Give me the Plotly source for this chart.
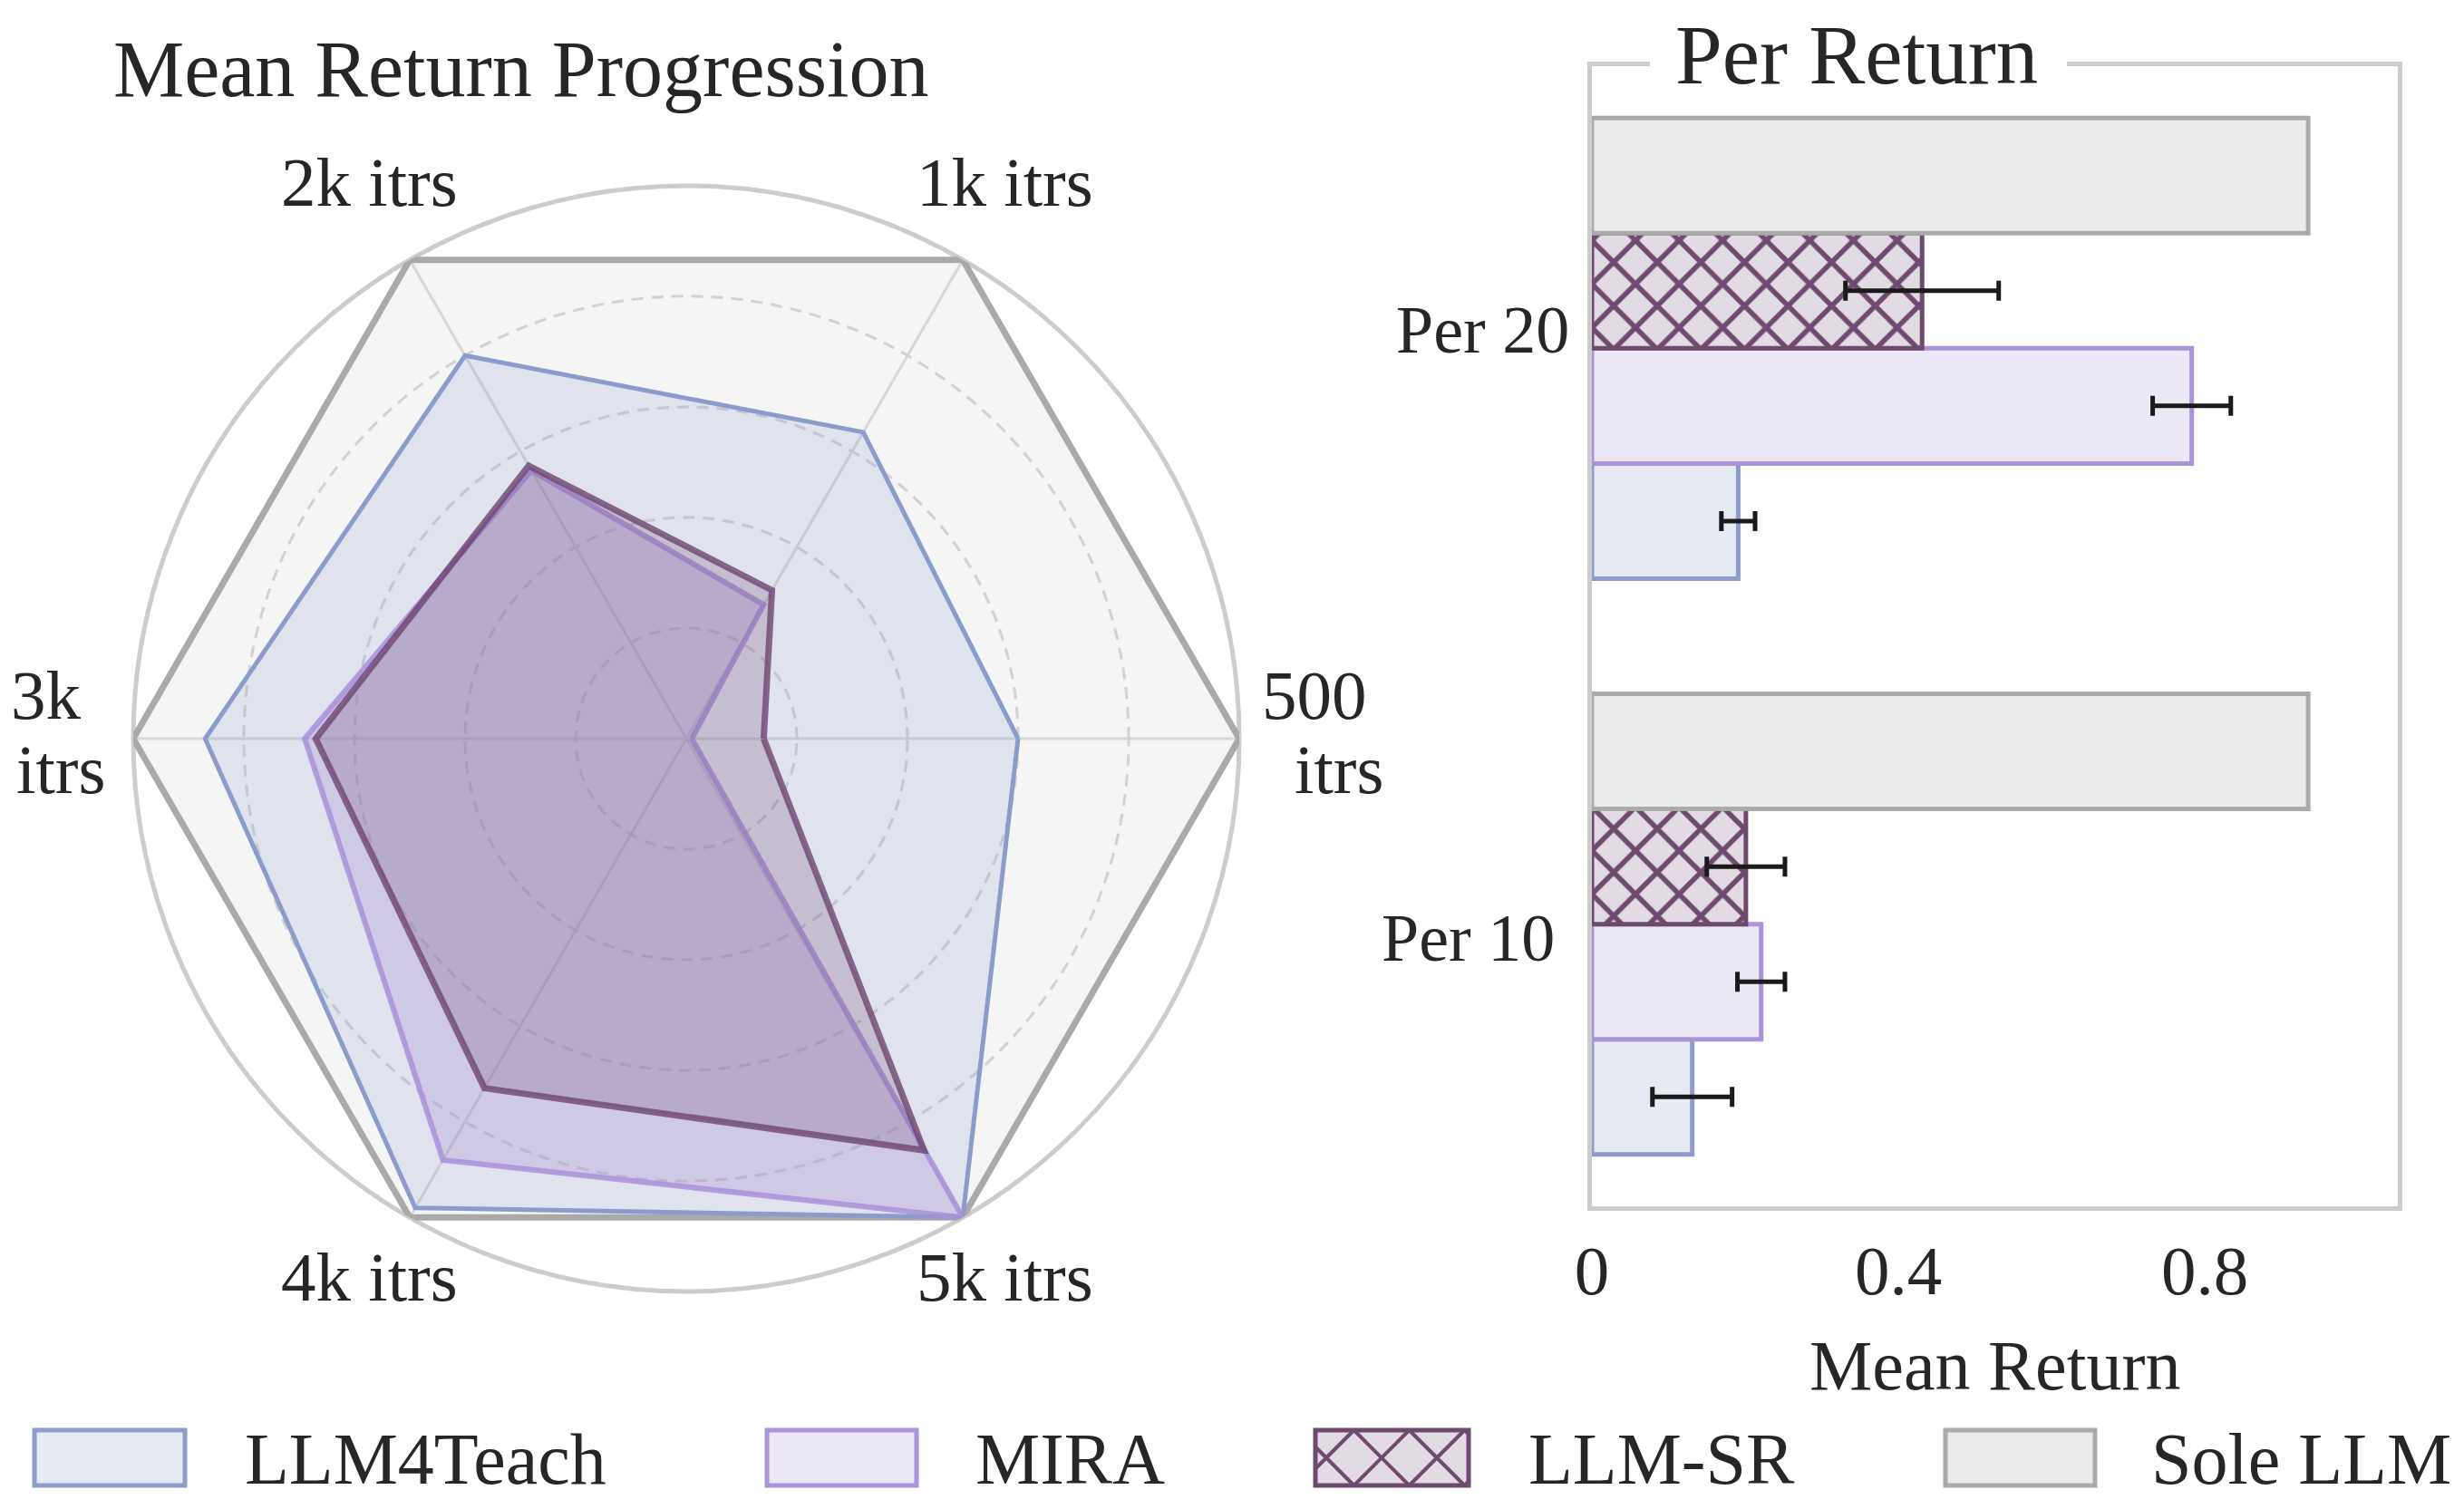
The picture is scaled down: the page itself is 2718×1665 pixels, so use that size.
import plotly.graph_objects as go

W, H = 2718, 1665
PAGE_MARGIN = 8
FW, FH = W - 2 * PAGE_MARGIN, H - 2 * PAGE_MARGIN
FONT = "Liberation Serif"
TXT = "#262626"

# ---------------- data ----------------
stages = ['500 itrs', '1k itrs', '2k itrs', '3k itrs', '4k itrs', '5k itrs']
llm4teach_r = [0.60, 0.64, 0.80, 0.87, 0.98, 1.00]
mira_r = [0.01, 0.28, 0.56, 0.69, 0.88, 1.00]
llmsr_r = [0.14, 0.31, 0.57, 0.67, 0.73, 0.86]
sole_r = [1.00, 1.00, 1.00, 1.00, 1.00, 1.00]
radial_grid = [0.2, 0.4, 0.6, 0.8]

groups = ['Per 10', 'Per 20']
llm4teach_bar = [0.131, 0.191]
llm4teach_err = [0.052, 0.022]
mira_bar = [0.221, 0.783]
mira_err = [0.031, 0.051]
llmsr_bar = [0.201, 0.431]
llmsr_err = [0.051, 0.100]
sole_bar = [0.935, 0.935]
x_ticks = [0, 0.4, 0.8]
x_ticklabels = ['0', '0.4', '0.8']

methods = ['LLM4Teach', 'MIRA', 'LLM-SR', 'Sole LLM']

# ---------------- styles ----------------
edge = {'LLM4Teach': '#8e9ccb', 'MIRA': '#ab93d8', 'LLM-SR': '#6e4a6f', 'Sole LLM': '#aba9a9'}
barfill = {'LLM4Teach': '#e7eaf3', 'MIRA': '#ece8f5', 'LLM-SR': '#e3dbe3', 'Sole LLM': '#ececec'}


def px_x(v):
    return (v - PAGE_MARGIN) / FW


def px_y(v):
    return 1 - (v - PAGE_MARGIN) / FH


fig = go.Figure()


def closed(vals):
    return list(vals) + [vals[0]]


theta_c = closed(stages)

fig.add_trace(go.Scatterpolar(r=closed(sole_r), theta=theta_c, mode='lines', fill='toself',
                              fillcolor='rgba(169,169,169,0.12)',
                              line=dict(color='#aba8a8', width=7), showlegend=False, hoverinfo='skip'))
fig.add_trace(go.Scatterpolar(r=closed(llm4teach_r), theta=theta_c, mode='lines', fill='toself',
                              fillcolor='rgba(140,155,204,0.20)',
                              line=dict(color='#8c9bcc', width=5), showlegend=False, hoverinfo='skip'))
fig.add_trace(go.Scatterpolar(r=closed(mira_r), theta=theta_c, mode='lines', fill='toself',
                              fillcolor='rgba(169,143,216,0.30)',
                              line=dict(color='rgba(169,143,216,0.85)', width=6), showlegend=False,
                              hoverinfo='skip'))
fig.add_trace(go.Scatterpolar(r=closed(llmsr_r), theta=theta_c, mode='lines', fill='toself',
                              fillcolor='rgba(107,69,112,0.23)',
                              line=dict(color='rgba(107,69,112,0.80)', width=7), showlegend=False,
                              hoverinfo='skip'))

# ---------------- bars ----------------
bar_vals = {'LLM4Teach': (llm4teach_bar, llm4teach_err), 'MIRA': (mira_bar, mira_err),
            'LLM-SR': (llmsr_bar, llmsr_err), 'Sole LLM': (sole_bar, None)}
for m in methods:
    vals, err = bar_vals[m]
    marker = dict(color=barfill[m], line=dict(color=edge[m], width=5))
    if m == 'LLM-SR':
        marker['pattern'] = dict(shape='x', size=34, solidity=0.3, fgcolor=edge[m], fgopacity=1)
    kw = {}
    if err is not None:
        kw['error_x'] = dict(type='data', array=err, color='#1a1a1a', thickness=5, width=11)
    fig.add_trace(go.Bar(y=groups, x=vals, orientation='h', marker=marker, name=m,
                         xaxis='x', yaxis='y', showlegend=False, hoverinfo='skip', **kw))

# ---------------- annotations ----------------
shapes = []
ann = []
ann.append(dict(text='Mean Return Progression', x=px_x(574), y=px_y(77), xref='paper', yref='paper',
                xanchor='center', yanchor='middle', showarrow=False, font=dict(size=88, family=FONT, color=TXT)))
# white gap in the frame's top line behind the panel title
shapes.append(dict(type='rect', xref='paper', yref='paper', x0=px_x(1820), x1=px_x(2280),
                   y0=px_y(84), y1=px_y(62), fillcolor='white', line=dict(width=0), layer='above'))
ann.append(dict(text='Per Return', x=px_x(2048), y=1.0, xref='paper', yref='paper',
                xanchor='center', yanchor='top', showarrow=False, borderpad=0,
                font=dict(size=93, family=FONT, color=TXT)))
ann.append(dict(text='Mean Return', x=px_x(2200), y=px_y(1506), xref='paper', yref='paper',
                xanchor='center', yanchor='middle', showarrow=False, font=dict(size=78, family=FONT, color=TXT)))

# group labels of the bar panel
group_label_pos = {'Per 20': (1733, 20), 'Per 10': (1717, -15)}
for g in groups:
    gx, gshift = group_label_pos[g]
    ann.append(dict(text=g, x=px_x(gx), y=g, xref='paper', yref='y', yshift=gshift,
                    xanchor='right', yanchor='middle', showarrow=False,
                    font=dict(size=74, family=FONT, color=TXT)))

# angular labels from stage names
lab_pos = {
    '1k itrs': (1108, 201), '2k itrs': (407, 201),
    '4k itrs': (407, 1409), '5k itrs': (1108, 1409),
}
for s in stages:
    if s in lab_pos:
        x, y = lab_pos[s]
        ann.append(dict(text=s, x=px_x(x), y=px_y(y), xref='paper', yref='paper', xanchor='center',
                        yanchor='middle', showarrow=False, font=dict(size=77, family=FONT, color=TXT)))
split_pos = {'500 itrs': [(1390, 767), (1426, 849)], '3k itrs': [(10, 767), (16, 849)]}
for s in stages:
    if s in split_pos:
        for part, (x, y) in zip(s.split(' '), split_pos[s]):
            ann.append(dict(text=part, x=px_x(x), y=px_y(y), xref='paper', yref='paper', xanchor='left',
                            yanchor='middle', showarrow=False, font=dict(size=77, family=FONT, color=TXT)))

# ---------------- custom legend ----------------
leg_boxes = {'LLM4Teach': (38, 204, 269), 'MIRA': (846, 1011, 1075),
             'LLM-SR': (1451, 1620, 1685), 'Sole LLM': (2146, 2311, 2372)}
ly0, ly1 = 1578, 1639


def clip(x0, y0, x1, y1, xmin, xmax, ymin, ymax):
    t0, t1 = 0.0, 1.0
    dx, dy = x1 - x0, y1 - y0
    for p, q in ((-dx, x0 - xmin), (dx, xmax - x0), (-dy, y0 - ymin), (dy, ymax - y0)):
        if p == 0:
            if q < 0:
                return None
        else:
            t = q / p
            if p < 0:
                t0 = max(t0, t)
            else:
                t1 = min(t1, t)
    if t0 > t1:
        return None
    return (x0 + t0 * dx, y0 + t0 * dy, x0 + t1 * dx, y0 + t1 * dy)


for m in methods:
    bx0, bx1, tx = leg_boxes[m]
    if m == 'LLM-SR':
        shapes.append(dict(type='rect', xref='paper', yref='paper', x0=px_x(bx0), x1=px_x(bx1),
                           y0=px_y(ly1), y1=px_y(ly0), fillcolor=barfill[m],
                           line=dict(width=0), layer='above'))
        h = (ly1 - ly0) / 2
        cy = (ly0 + ly1) / 2
        cx = bx0 + 12 - 2 * h
        while cx < bx1 + 2 * h:
            for (ax, ay, bx, by) in ((cx - h, cy - h, cx + h, cy + h), (cx - h, cy + h, cx + h, cy - h)):
                seg = clip(ax, ay, bx, by, bx0, bx1, ly0, ly1)
                if seg:
                    shapes.append(dict(type='line', xref='paper', yref='paper',
                                       x0=px_x(seg[0]), y0=px_y(seg[1]), x1=px_x(seg[2]), y1=px_y(seg[3]),
                                       line=dict(color=edge[m], width=4), layer='above'))
            cx += 2 * h
        shapes.append(dict(type='rect', xref='paper', yref='paper', x0=px_x(bx0), x1=px_x(bx1),
                           y0=px_y(ly1), y1=px_y(ly0), fillcolor='rgba(0,0,0,0)',
                           line=dict(color=edge[m], width=5), layer='above'))
    else:
        shapes.append(dict(type='rect', xref='paper', yref='paper', x0=px_x(bx0), x1=px_x(bx1),
                           y0=px_y(ly1), y1=px_y(ly0), fillcolor=barfill[m],
                           line=dict(color=edge[m], width=5), layer='above'))
    ann.append(dict(text=m, x=px_x(tx), y=px_y(1610), xref='paper', yref='paper', xanchor='left',
                    yanchor='middle', showarrow=False, borderpad=0,
                    font=dict(size=80, family=FONT, color=TXT)))

# ---------------- layout ----------------
fig.update_layout(
    width=FW, height=FH, autosize=False,
    margin=dict(l=0, r=0, t=0, b=0),
    paper_bgcolor='white', plot_bgcolor='white',
    font=dict(family=FONT, color=TXT),
    showlegend=False,
    barmode='group', bargap=0.2, bargroupgap=0,
    polar=dict(
        domain=dict(x=[px_x(147), px_x(1367)], y=[px_y(1425), px_y(205)]),
        bgcolor='white',
        gridshape='circular',
        radialaxis=dict(range=[0, 1], tickvals=radial_grid, showticklabels=False, ticks='',
                        showline=False, gridcolor='#d8d8d8', griddash='13px,9px', gridwidth=3,
                        layer='below traces'),
        angularaxis=dict(type='category', rotation=0, direction='counterclockwise',
                         showticklabels=False, ticks='', linecolor='#cccccc', linewidth=5,
                         gridcolor='#dedede', gridwidth=3, layer='below traces'),
    ),
    xaxis=dict(domain=[px_x(1756), px_x(2645)], range=[0, 1.052], tickvals=x_ticks, ticktext=x_ticklabels,
               showgrid=False, zeroline=False, showline=True, mirror=True, linecolor='#cccccc', linewidth=5,
               ticks='', tickfont=dict(size=77, family=FONT, color=TXT), anchor='y', automargin=False),
    yaxis=dict(domain=[px_y(1331), px_y(73)], range=[-0.49, 1.49], showgrid=False, zeroline=False,
               showline=True, mirror=True, linecolor='#cccccc', linewidth=5, ticks='',
               showticklabels=False, anchor='x', automargin=False),
    annotations=ann,
    shapes=shapes,
)

fig.write_html("out.html")
